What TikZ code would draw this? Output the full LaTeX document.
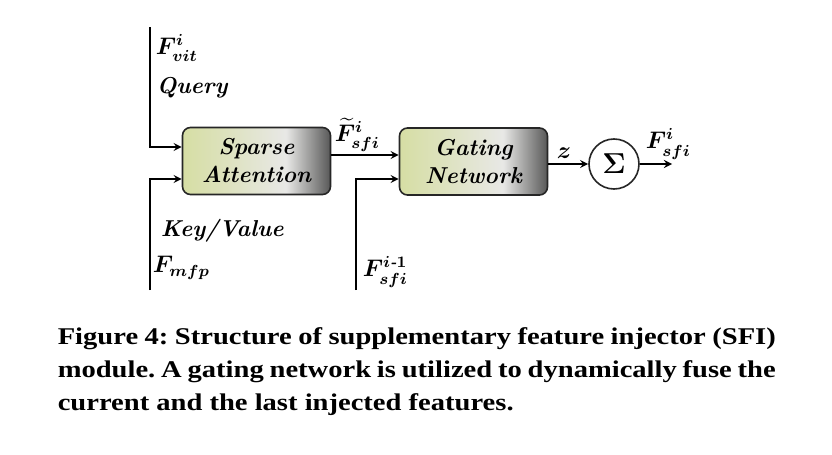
\documentclass[tikz,border=0pt]{standalone}
\usepackage{amsmath,bm}
\usepackage{fontspec}
\newfontfamily\capfont[FakeStretch=1.19]{Liberation Serif}
\definecolor{boxgreen}{RGB}{214,222,164}
\definecolor{boxlight}{RGB}{232,232,230}
\definecolor{boxdark}{RGB}{88,88,88}
\pgfdeclarehorizontalshading{boxfade}{100bp}{color(0bp)=(boxgreen); color(25bp)=(boxgreen); color(40bp)=(boxgreen!60!boxlight); color(60bp)=(boxlight); color(75bp)=(boxdark); color(100bp)=(boxdark)}
\newcommand\lblfont{\fontsize{11.5}{14}\selectfont\boldmath\bfseries\itshape}
\newcommand\capline{\capfont\bfseries\fontsize{12}{15}\selectfont\frenchspacing}
\tikzset{
  block/.style={draw=black!85, line width=0.8pt, rounded corners=4pt, shading=boxfade,
    minimum width=74pt, minimum height=33.5pt, align=center, font=\lblfont},
  sumnode/.style={draw=black!85, line width=0.8pt, circle, fill=white, minimum size=25pt,
    inner sep=0pt, font=\Large\boldmath},
  lbl/.style={anchor=west, inner sep=0pt, font=\lblfont},
  capt/.style={anchor=base west, inner sep=0pt, font=\capline}
}
\begin{document}
\begin{tikzpicture}[x=0.5pt,y=-0.5pt,>=stealth,line width=0.8pt]
  \useasboundingbox (0,0) rectangle (832,455);
  %\draw [help lines] (0,0) grid (832,455);
  \node[block] (attn) at (256.5,161) {Sparse\\Attention};
  \node[block] (gate) at (473.5,161.5) {Gating\\Network};
  \node[sumnode] (sum) at (614,164) {$\Sigma$};
  \coordinate (qtop) at (150,27);
  \coordinate (kvbot) at (150,290);
  \coordinate (prevbot) at (356,290);
  \coordinate (out) at (672,164);

  \node[lbl] (fvit) at (155,48) {$F^{i}_{vit}$};
  \node[lbl] (query) at (156,88) {Query};
  \node[lbl] (keyvalue) at (160,231) {Key/Value};
  \node[lbl] (fmfp) at (152,268) {$F_{mfp}$};
  \node[lbl] (fsfitilde) at (334,135) {$\widetilde{F}^{i}_{sfi}$};
  \node[lbl] (fsfiprev) at (362,272) {$F^{i\text{-}1}_{sfi}$};
  \node[lbl] (z) at (556,153) {$z$};
  \node[lbl] (fsfi) at (645,144) {$F^{i}_{sfi}$};

  \draw[->] (qtop) |- ([yshift=7pt]attn.west);
  \draw[->] (kvbot) |- ([yshift=-9pt]attn.west);
  \draw[->] ([yshift=3pt]attn.east) -- ([yshift=3.25pt]gate.west);
  \draw[->] (prevbot) |- ([yshift=-8.75pt]gate.west);
  \draw[->] ([yshift=-1.25pt]gate.east) -- (sum);
  \draw[->] (sum) -- (out);

  \node[capt] (cap1) at (57,344) {\makebox[359pt][s]{Figure 4: Structure of supplementary feature injector (SFI)}};
  \node[capt] (cap2) at (57,377) {\makebox[359pt][s]{module. A gating network is utilized to dynamically fuse the}};
  \node[capt] (cap3) at (57,410) {current and the last injected features.};
\end{tikzpicture}
\end{document}
